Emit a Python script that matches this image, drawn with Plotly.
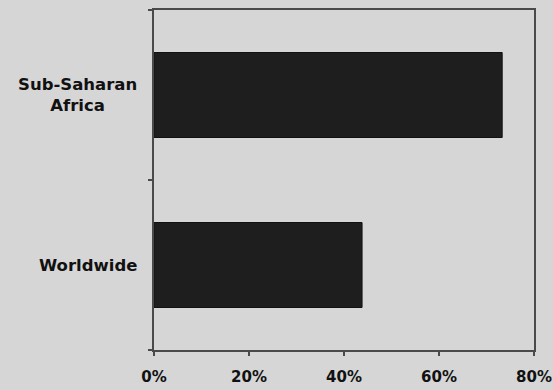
import plotly.graph_objects as go

# Share of population, by region
regions = ["Sub-Saharan Africa", "Worldwide"]
region_labels = ["Sub-Saharan<br>Africa", "Worldwide"]
shares = [73.3, 43.8]  # percent

tick_vals = [0, 20, 40, 60, 80]
tick_text = ["0%", "20%", "40%", "60%", "80%"]

bg = "#d6d6d6"
axis_col = "#4a4a4a"
label_font = dict(family="DejaVu Sans", size=16.5, color="#111111", weight="bold")

fig = go.Figure(
    go.Bar(
        y=regions,
        x=shares,
        orientation="h",
        marker=dict(color="#1e1e1e", line=dict(color="#111111", width=1)),
        width=0.5,
    )
)

fig.update_layout(
    width=553,
    height=390,
    paper_bgcolor=bg,
    plot_bgcolor=bg,
    margin=dict(l=154, r=19, t=10, b=40, autoexpand=False),
    showlegend=False,
    font=dict(family="DejaVu Sans", size=13, color="#111111"),
)

fig.update_xaxes(
    range=[0, 80],
    tickvals=tick_vals,
    ticktext=tick_text,
    tickfont=dict(family="DejaVu Sans", size=15, color="#111111", weight="bold"),
    automargin=False,
    ticklabeloverflow="allow",
    showgrid=False,
    zeroline=False,
    showline=True,
    linecolor=axis_col,
    linewidth=2,
    mirror=True,
    ticks="outside",
    ticklen=4,
    tickwidth=2,
    tickcolor=axis_col,
    ticklabelstandoff=8,
    fixedrange=True,
)

fig.update_yaxes(
    categoryorder="array",
    categoryarray=regions[::-1],
    range=[-0.5, 1.5],
    showticklabels=False,
    automargin=False,
    showgrid=False,
    zeroline=False,
    showline=True,
    linecolor=axis_col,
    linewidth=2,
    mirror=True,
    ticks="outside",
    tickson="boundaries",
    ticklen=4,
    tickwidth=2,
    tickcolor=axis_col,
    fixedrange=True,
)

# Category labels, centred line by line, left of the axis
for name, label in zip(regions, region_labels):
    fig.add_annotation(
        x=0,
        xref="paper",
        y=name,
        yref="y",
        text=label,
        showarrow=False,
        xanchor="right",
        xshift=-15,
        align="center",
        font=label_font,
    )

fig.write_html("out.html")
